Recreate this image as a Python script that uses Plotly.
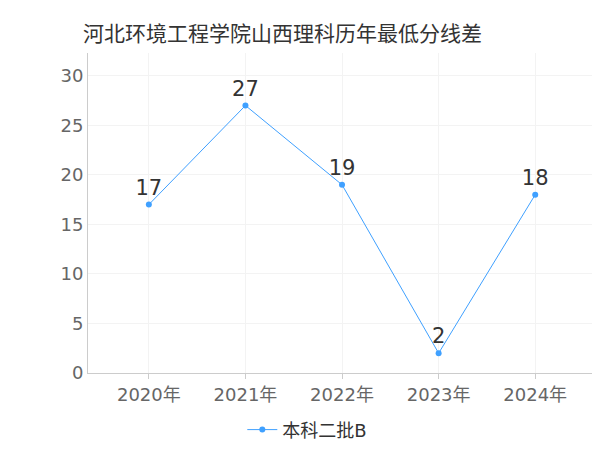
import plotly.graph_objects as go

years = ["2020年", "2021年", "2022年", "2023年", "2024年"]
scores = [17, 27, 19, 2, 18]
series_name = "本科二批B"

fig = go.Figure()
fig.add_trace(go.Scatter(
    x=years, y=scores, name=series_name, mode="lines+markers+text",
    text=[str(v) for v in scores], textposition="top center",
    textfont=dict(size=21, color="#333"),
    line=dict(color="#3fa0ff", width=1), marker=dict(size=6, color="#3fa0ff"),
))
fig.update_layout(
    width=600, height=450, plot_bgcolor="white", paper_bgcolor="white",
    font=dict(family="DejaVu Sans, Noto Sans CJK SC", color="#666"),
    title=dict(text="河北环境工程学院山西理科历年最低分线差", x=0.125, xanchor="left",
               y=0.96, font=dict(size=21, color="#333")),
    margin=dict(l=80, r=10, t=45, b=81),
    showlegend=True,
    legend=dict(orientation="h", x=0.43, xanchor="center", y=-0.12, yanchor="top",
                font=dict(size=18, color="#333")),
    xaxis=dict(range=[-0.63, 4.65], showgrid=True, gridcolor="#f3f3f3", automargin=False,
               showline=True, linecolor="#ccc", ticks="outside", tickcolor="#ccc",
               tickfont=dict(size=18)),
    yaxis=dict(range=[0, 32.3], dtick=5, showgrid=True, gridcolor="#f3f3f3", automargin=False,
               zeroline=False, showline=True, linecolor="#ccc",
               tickfont=dict(size=18)),
)
fig.write_html("out.html")
